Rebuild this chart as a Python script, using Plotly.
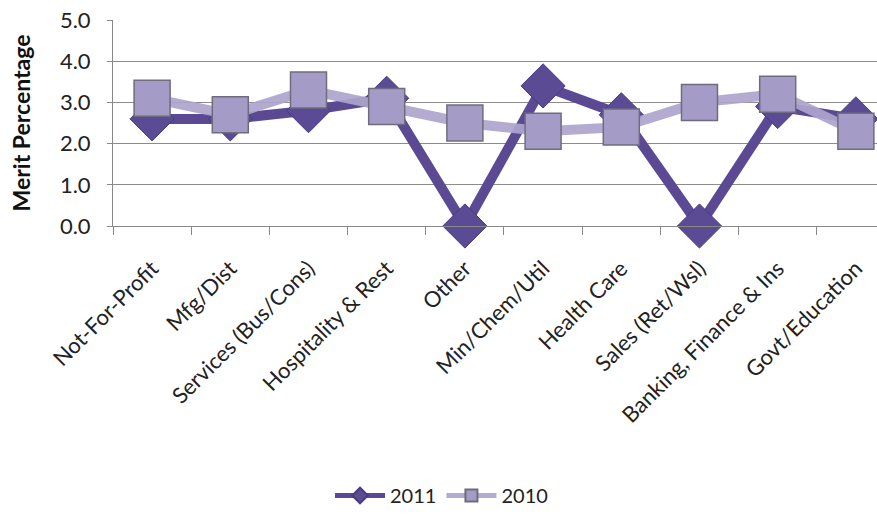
import plotly.graph_objects as go

categories = ["Not-For-Profit", "Mfg/Dist", "Services (Bus/Cons)", "Hospitality & Rest",
              "Other", "Min/Chem/Util", "Health Care", "Sales (Ret/Wsl)",
              "Banking, Finance & Ins", "Govt/Education"]
values_2011 = [2.6, 2.6, 2.8, 3.1, 0.0, 3.4, 2.7, 0.0, 2.9, 2.6]
values_2010 = [3.1, 2.7, 3.3, 2.9, 2.5, 2.3, 2.4, 3.0, 3.2, 2.3]
y_ticks = [0, 1, 2, 3, 4, 5]
y_tick_labels = ["0.0", "1.0", "2.0", "3.0", "4.0", "5.0"]

FONT = "Lato, Open Sans, sans-serif"

fig = go.Figure()
fig.add_trace(go.Scatter(
    x=categories, y=values_2011, name="2011", mode="lines+markers",
    line=dict(color="#5B4A93", width=10),
    marker=dict(symbol="diamond", size=34, color="#5A4B94",
                line=dict(color="#4A3C80", width=1)),
    cliponaxis=False,
))
fig.add_trace(go.Scatter(
    x=categories, y=values_2010, name="2010", mode="lines+markers",
    line=dict(color="rgba(172,164,204,0.92)", width=10),
    marker=dict(symbol="square", size=36, color="#A49CC6",
                line=dict(color="#6E6C7E", width=1.5)),
    cliponaxis=False,
))

fig.update_layout(
    width=877, height=515,
    margin=dict(l=113, r=0, t=20, b=287),
    paper_bgcolor="white", plot_bgcolor="white",
    font=dict(family=FONT, color="#222"),
    showlegend=True,
    legend=dict(orientation="h", x=0.43, xanchor="center", y=-1.31, yanchor="middle",
                font=dict(size=20, family=FONT, color="#222"),
                itemsizing="constant", itemwidth=50, traceorder="normal"),
)
fig.update_xaxes(
    type="category", range=[-0.5, 9.27],
    tickangle=-45, tickfont=dict(size=22, family=FONT, color="#222"),
    ticks="outside", tickson="boundaries", ticklen=8, tickcolor="#888",
    ticklabelstandoff=20,
    showline=True, linecolor="#888", linewidth=1, showgrid=False,
)
fig.update_yaxes(
    range=[0, 5], tickvals=y_ticks, ticktext=y_tick_labels,
    tickfont=dict(size=22, family=FONT, color="#222"),
    ticks="outside", ticklen=5, tickcolor="#888", ticklabelstandoff=12,
    showline=True, linecolor="#888", linewidth=1,
    showgrid=True, gridcolor="#8c8c8c", gridwidth=1, zeroline=False,
    title=dict(text="<b>Merit Percentage</b>", font=dict(size=23, family=FONT, color="#111"), standoff=22),
)

fig.write_html("out.html")
